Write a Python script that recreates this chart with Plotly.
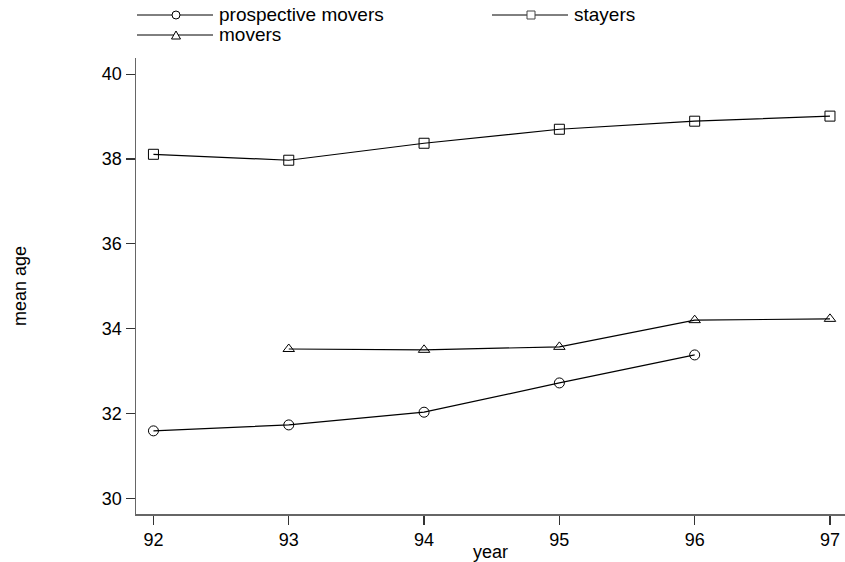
import plotly.graph_objects as go

years = [92, 93, 94, 95, 96, 97]
prospective_movers = [31.59, 31.73, 32.03, 32.72, 33.38, None]
stayers = [38.11, 37.97, 38.37, 38.70, 38.89, 39.01]
movers = [None, 33.52, 33.50, 33.57, 34.20, 34.23]
y_ticks = [30, 32, 34, 36, 38, 40]
series_names = ["prospective movers", "stayers", "movers"]

FONT = "Liberation Sans, Arial, sans-serif"
W, H = 845, 562
ML, MR, MT, MB = 136, 0, 58, 48
PW, PH = W - ML - MR, H - MT - MB

def px(x):
    return (x - ML) / PW

def py(y):
    return (H - MB - y) / PH

fig = go.Figure()
symbols = ["circle-open", "square-open", "triangle-up-open"]
for name, vals, sym in zip(series_names, [prospective_movers, stayers, movers], symbols):
    fig.add_trace(go.Scatter(
        x=years, y=vals, name=name, mode="lines+markers",
        line=dict(color="black", width=1.2),
        marker=dict(symbol=sym, size=10, color="black", line=dict(width=1, color="black")),
        connectgaps=False, showlegend=False,
    ))

# custom legend (Stata style: long line with marker in the middle)
legend_slots = [(137, 15), (492, 15), (137, 35)]   # (line start x, row y) in page px
shapes, annotations = [], []
for (name, sym, (lx, ly)) in zip(series_names, ["circle", "square", "triangle"], legend_slots):
    x0, x1, xm = px(lx), px(lx + 76), px(lx + 39)
    yy = py(ly)
    shapes.append(dict(type="line", xref="paper", yref="paper", x0=x0, x1=x1, y0=yy, y1=yy,
                       line=dict(color="black", width=1)))
    if sym == "circle":
        shapes.append(dict(type="circle", xref="paper", yref="paper", xsizemode="pixel", ysizemode="pixel",
                           xanchor=xm, yanchor=yy, x0=-4, x1=4, y0=-4, y1=4,
                           fillcolor="white", line=dict(color="black", width=1)))
    elif sym == "square":
        shapes.append(dict(type="rect", xref="paper", yref="paper", xsizemode="pixel", ysizemode="pixel",
                           xanchor=xm, yanchor=yy, x0=-4, x1=4, y0=-4, y1=4,
                           fillcolor="white", line=dict(color="#444", width=1)))
    else:
        shapes.append(dict(type="path", xref="paper", yref="paper", xsizemode="pixel", ysizemode="pixel",
                           xanchor=xm, yanchor=yy, path="M -4.5,-4 L 4.5,-4 L 0,4 Z",
                           fillcolor="white", line=dict(color="black", width=1)))
    annotations.append(dict(text=name, xref="paper", yref="paper", x=px(lx + 81), y=yy,
                            xanchor="left", yanchor="middle", showarrow=False, borderpad=0,
                            font=dict(size=19, family=FONT, color="black")))

fig.update_layout(
    width=W, height=H,
    margin=dict(l=ML, r=MR, t=MT, b=MB, autoexpand=False),
    paper_bgcolor="white", plot_bgcolor="white",
    font=dict(family=FONT, size=18, color="black"),
    showlegend=False, hovermode=False,
    shapes=shapes, annotations=annotations,
    xaxis=dict(range=[91.871, 97.111], tickvals=years, ticktext=[str(y) for y in years],
               automargin=False,
               showgrid=False, zeroline=False, showline=True, linecolor="#666", linewidth=1.5,
               ticks="outside", ticklen=9, tickcolor="#333", tickwidth=1.2,
               title=dict(text="year", standoff=0, font=dict(size=18))),
    yaxis=dict(range=[29.63, 40.38], tickvals=y_ticks, automargin=False,
               showgrid=False, zeroline=False, showline=True, linecolor="#666", linewidth=1.5,
               ticks="outside", ticklen=9, tickcolor="#333", tickwidth=1.2,
               title=dict(text="mean age", standoff=70, font=dict(size=18))),
)
fig.write_html("out.html", config={"displayModeBar": False, "staticPlot": True},
               post_script="document.body.style.margin='0';document.body.style.overflow='hidden';")
